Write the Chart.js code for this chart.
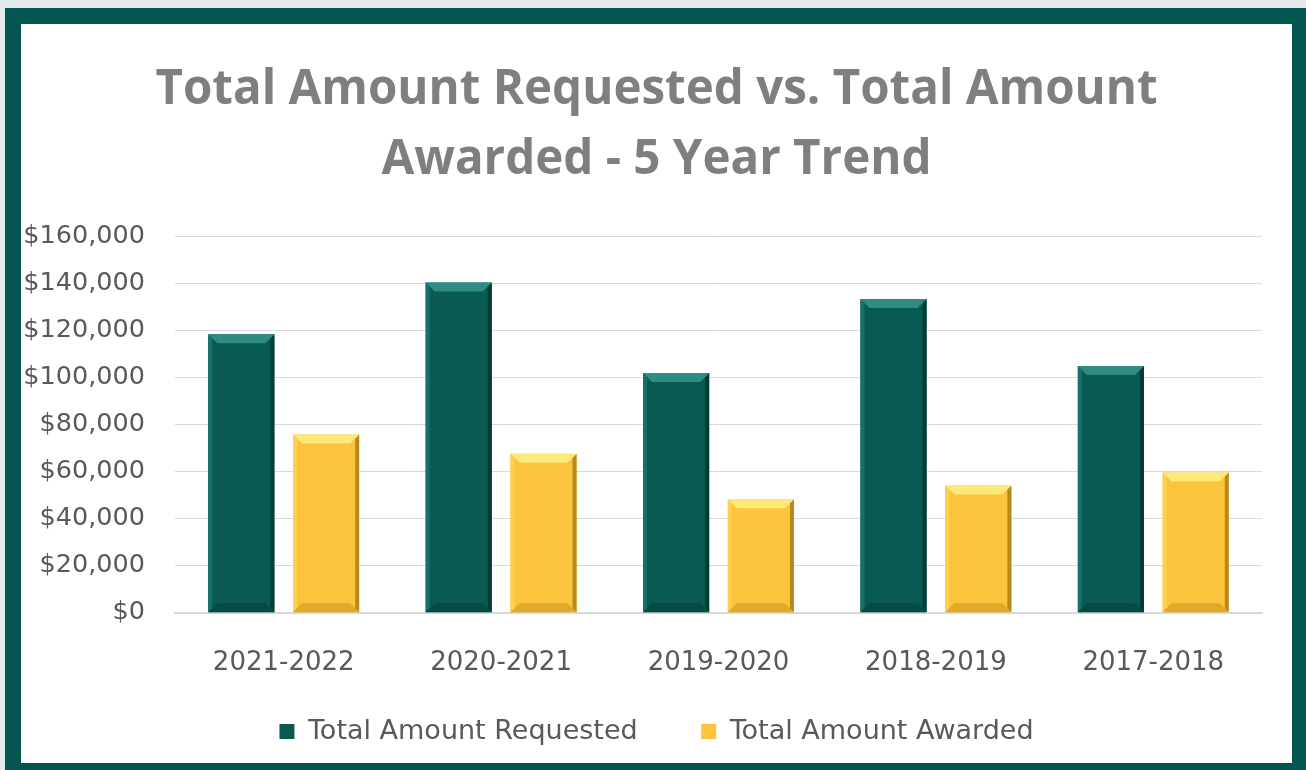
<!DOCTYPE html>
<html>
<head>
<meta charset="utf-8">
<script src="https://cdn.jsdelivr.net/npm/chart.js@4/dist/chart.umd.min.js"></script>
<style>
  html, body { margin: 0; padding: 0; background: #e3eaea; width: 1306px; height: 770px; overflow: hidden; }
  #frame {
    position: absolute; left: 5px; top: 8px; width: 1271px; height: 739px;
    border-left: 16px solid #03554f; border-top: 16px solid #03554f;
    border-right: 14px solid #03554f; border-bottom: 7px solid #03554f;
    background: #fff;
  }
  canvas { display: block; }
</style>
</head>
<body>
<div id="frame"><canvas id="chart" width="1271" height="739"></canvas></div>
<script>
// données
const years     = ['2021-2022', '2020-2021', '2019-2020', '2018-2019', '2017-2018'];
const requested = [118500, 140500, 102000, 133500, 105000];
const awarded   = [75800, 67700, 48300, 54200, 59700];
const yTicks    = [0, 20000, 40000, 60000, 80000, 100000, 120000, 140000, 160000];

const TEAL   = '#0a5a54';
const YELLOW = '#fbc43c';

// effet biseau façon Excel
const bevel = {
  id: 'bevel',
  afterLayout(chart) {
    // les libellés de l'axe y débordent dans la marge de gauche
    chart.scales.y.left = 0;
  },
  afterDatasetsDraw(chart) {
    const ctx = chart.ctx;
    const shades = [
      { top: '#2e8c82', left: '#14706a', right: '#033c37', bottom: '#064a45' },
      { top: '#fde878', left: '#fdd050', right: '#b8891c', bottom: '#e0a92a' },
    ];
    chart.data.datasets.forEach((ds, di) => {
      const meta = chart.getDatasetMeta(di);
      const s = shades[di];
      meta.data.forEach(el => {
        const { x, y, base, width } = el.getProps(['x', 'y', 'base', 'width'], true);
        const l = x - width / 2, r = x + width / 2;
        const b = Math.min(9, (base - y) / 2);
        const poly = (pts, col) => {
          ctx.beginPath();
          ctx.moveTo(pts[0][0], pts[0][1]);
          pts.slice(1).forEach(p => ctx.lineTo(p[0], p[1]));
          ctx.closePath();
          ctx.fillStyle = col;
          ctx.fill();
        };
        ctx.save();
        poly([[l, y], [l + 4, y + 4], [l + 4, base - 4], [l, base]], s.left);
        poly([[r, y], [r, base], [r - 4, base - 4], [r - 4, y + 4]], s.right);
        poly([[l, base], [r, base], [r - b, base - b], [l + b, base - b]], s.bottom);
        poly([[l, y], [r, y], [r - b, y + b], [l + b, y + b]], s.top);
        ctx.restore();
      });
    });
  }
};

new Chart(document.getElementById('chart'), {
  type: 'bar',
  data: {
    labels: years,
    datasets: [
      { label: 'Total Amount Requested', data: requested, backgroundColor: TEAL },
      { label: 'Total Amount Awarded', data: awarded, backgroundColor: YELLOW },
    ],
  },
  options: {
    responsive: false, animation: false,
    categoryPercentage: 0.78, barPercentage: 0.78,
    layout: { padding: { top: 32, left: 30, right: 30, bottom: 8 } },
    plugins: {
      title: {
        display: true,
        text: ['Total Amount Requested vs. Total Amount', 'Awarded - 5 Year Trend'],
        color: '#7f7f7f',
        font: { family: 'Open Sans', size: 47.5, weight: 'bold', lineHeight: 1.47 },
        padding: { top: 0, bottom: 41 },
      },
      legend: {
        position: 'bottom',
        labels: {
          color: '#595959', boxWidth: 15, boxHeight: 15, padding: 12,
          font: { family: 'DejaVu Sans', size: 27 },
          // écart plus large entre les deux entrées
          generateLabels: chart => {
            const items = Chart.defaults.plugins.legend.labels.generateLabels(chart);
            items.forEach((it, i) => { if (i < items.length - 1) it.text += '      '; });
            return items;
          },
        },
      },
      tooltip: { enabled: false },
    },
    scales: {
      x: {
        grid: { display: false },
        border: { color: '#d9d9d9', width: 2 },
        ticks: { color: '#595959', padding: 27, font: { family: 'DejaVu Sans', size: 26 } },
      },
      y: {
        min: 0, max: 160000,
        afterBuildTicks: axis => { axis.ticks = yTicks.map(v => ({ value: v })); },
        afterFit: axis => { axis.width = 124; },
        grid: { color: '#d9d9d9', drawTicks: false },
        border: { display: false },
        ticks: {
          color: '#595959', padding: 30, font: { family: 'DejaVu Sans', size: 25.5 },
          callback: v => '$' + v.toLocaleString('en-US'),
        },
      },
    },
  },
  plugins: [bevel],
});
</script>
</body>
</html>
